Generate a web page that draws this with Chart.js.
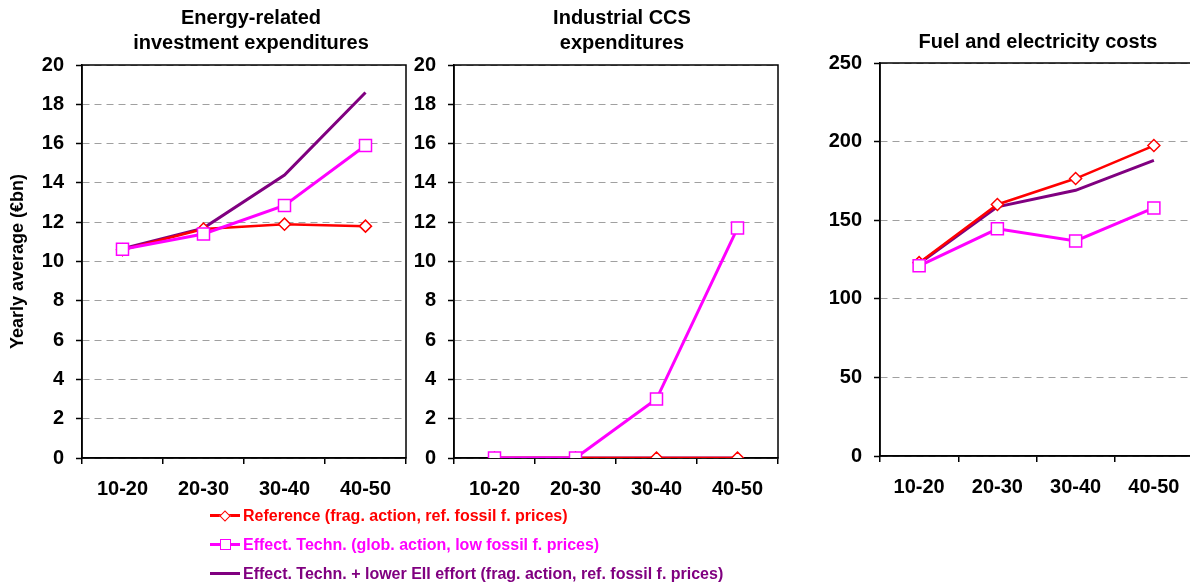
<!DOCTYPE html>
<html>
<head>
<meta charset="utf-8">
<script src="https://cdn.jsdelivr.net/npm/chart.js@4.4.0/dist/chart.umd.min.js"></script>
<style>
  html, body { margin: 0; padding: 0; background: #fff; width: 1190px; height: 585px; overflow: hidden; }
  canvas { position: absolute; top: 0; }
  #legend { position: absolute; left: 210px; top: 501px; font: bold 16px 'Liberation Sans', Arial, sans-serif; }
  .item { height: 29px; display: flex; align-items: center; }
  .sym { position: relative; width: 30px; height: 3px; margin-right: 3px; }
  .mk { position: absolute; left: 50%; top: 50%; background: #fff; box-sizing: border-box; }
</style>
</head>
<body>
<canvas id="invest" width="502" height="510" style="left:0px"></canvas>
<canvas id="ccs" width="428" height="510" style="left:408px"></canvas>
<canvas id="fuel" width="496" height="510" style="left:790px"></canvas>
<div id="legend"></div>
<script>
'use strict';
const categories = ['10-20', '20-30', '30-40', '40-50'];

const seriesNames = [
    'Reference (frag. action, ref. fossil f. prices)',
    'Effect. Techn. (glob. action, low fossil f. prices)',
    'Effect. Techn. + lower EII effort (frag. action, ref. fossil f. prices)'
];

// Energy-related investment expenditures
const investRef = [10.6, 11.65, 11.9, 11.8];
const investTech = [10.62, 11.4, 12.85, 15.9];
const investLowEII = [10.65, 11.7, 14.4, 18.6];

// Industrial CCS expenditures
const ccsRef = [0, 0, 0, 0];
const ccsTech = [0, 0, 3.0, 11.7];
const ccsLowEII = [0, 0, 0, 0];

// Fuel and electricity costs
const fuelRef = [123, 160, 176.5, 197.5];
const fuelTech = [121, 144.5, 136.8, 157.8];
const fuelLowEII = [122.5, 158.5, 169, 188];

const RED = '#ff0000', PINK = '#ff00ff', PURPLE = '#800080';
Chart.defaults.font.family = "'Liberation Sans', Arial, sans-serif";
Chart.defaults.color = '#000';

const framePlugin = {
    id: 'frame',
    beforeDatasetsDraw(chart) {
        const { ctx, chartArea: a } = chart;
        ctx.save();
        ctx.strokeStyle = '#000';
        ctx.lineWidth = 1.5;
        ctx.strokeRect(a.left, a.top, a.right - a.left, a.bottom - a.top);
        ctx.restore();
    }
};

function makeDatasets(ref, tech, lowEII) {
    return [
        { label: seriesNames[0], data: ref, borderColor: RED, borderWidth: 2.5, pointStyle: 'rectRot',
          pointRadius: 6, pointBackgroundColor: '#fff', pointBorderColor: RED, pointBorderWidth: 1.5, order: 2 },
        { label: seriesNames[1], data: tech, borderColor: PINK, borderWidth: 3, pointStyle: 'rect',
          pointRadius: 8.5, pointBackgroundColor: '#fff', pointBorderColor: PINK, pointBorderWidth: 1.5, order: 1 },
        { label: seriesNames[2], data: lowEII, borderColor: PURPLE, borderWidth: 3, pointRadius: 0, order: 3 }
    ];
}

function buildChart(id, cfg) {
    new Chart(document.getElementById(id), {
        type: 'line',
        data: { labels: categories, datasets: cfg.datasets },
        options: {
            responsive: false,
            animation: false,
            events: [],
            layout: { padding: 0 },
            elements: { line: { tension: 0 } },
            plugins: {
                legend: { display: false },
                tooltip: { enabled: false },
                title: {
                    display: true, text: cfg.title, color: '#000',
                    font: { size: 20, weight: 'bold', lineHeight: 25 / 20 },
                    padding: cfg.titlePad
                }
            },
            scales: {
                x: {
                    offset: true,
                    grid: { offset: true, drawOnChartArea: false, color: '#000', lineWidth: 1.5, tickLength: 6 },
                    border: { color: '#000', width: 1.5 },
                    ticks: { color: '#000', font: { size: 20, weight: 'bold' }, padding: 13, maxRotation: 0 },
                    afterFit: s => { s.height = cfg.xHeight; }
                },
                y: {
                    min: 0, max: cfg.max,
                    ticks: { stepSize: cfg.step, color: '#000', font: { size: 20, weight: 'bold' }, padding: 12 },
                    grid: { color: '#a0a0a0', lineWidth: 1, tickColor: '#000', tickWidth: 1.5, tickLength: 6 },
                    border: { color: '#000', width: 1.5, dash: [7, 5] },
                    title: cfg.yTitle || { display: false },
                    afterFit: s => { s.width = cfg.yWidth; }
                },
                // empty right-hand axis, only keeps blank space beside the plot
                spacer: {
                    position: 'right', min: 0, max: 1,
                    ticks: { display: false },
                    grid: { display: false },
                    border: { display: false },
                    afterFit: s => { s.width = cfg.rightSpace; }
                }
            }
        },
        plugins: [framePlugin]
    });
}

buildChart('invest', {
    title: ['Energy-related', 'investment expenditures'],
    titlePad: { top: 5.5, bottom: 9.5 },
    datasets: makeDatasets(investRef, investTech, investLowEII),
    max: 20, step: 2, yWidth: 82, xHeight: 52, rightSpace: 96,
    yTitle: { display: true, text: 'Yearly average (€bn)', color: '#000',
              font: { size: 18, weight: 'bold' }, padding: { top: 7, bottom: 0 } }
});

buildChart('ccs', {
    title: ['Industrial CCS', 'expenditures'],
    titlePad: { top: 5.5, bottom: 9.5 },
    datasets: makeDatasets(ccsRef, ccsTech, ccsLowEII),
    max: 20, step: 2, yWidth: 46, xHeight: 52, rightSpace: 58
});

buildChart('fuel', {
    title: 'Fuel and electricity costs',
    titlePad: { top: 29.5, bottom: 8.5 },
    datasets: makeDatasets(fuelRef, fuelTech, fuelLowEII),
    max: 250, step: 50, yWidth: 90, xHeight: 54, rightSpace: 93
});

// legend below the charts
const legendColors = [RED, PINK, PURPLE];
const legend = document.getElementById('legend');
seriesNames.forEach((name, i) => {
    const item = document.createElement('div');
    item.className = 'item';
    const sym = document.createElement('span');
    sym.className = 'sym';
    sym.style.background = legendColors[i];
    if (i === 0) {
        const mk = document.createElement('span');
        mk.className = 'mk';
        mk.style.cssText = 'width:8px;height:8px;margin:-4px 0 0 -4px;border:1.5px solid ' + RED + ';transform:rotate(45deg)';
        sym.appendChild(mk);
    } else if (i === 1) {
        const mk = document.createElement('span');
        mk.className = 'mk';
        mk.style.cssText = 'width:11px;height:11px;margin:-5.5px 0 0 -5.5px;border:1.5px solid ' + PINK;
        sym.appendChild(mk);
    }
    const txt = document.createElement('span');
    txt.textContent = name;
    txt.style.color = legendColors[i];
    item.appendChild(sym);
    item.appendChild(txt);
    legend.appendChild(item);
});
</script>
</body>
</html>
